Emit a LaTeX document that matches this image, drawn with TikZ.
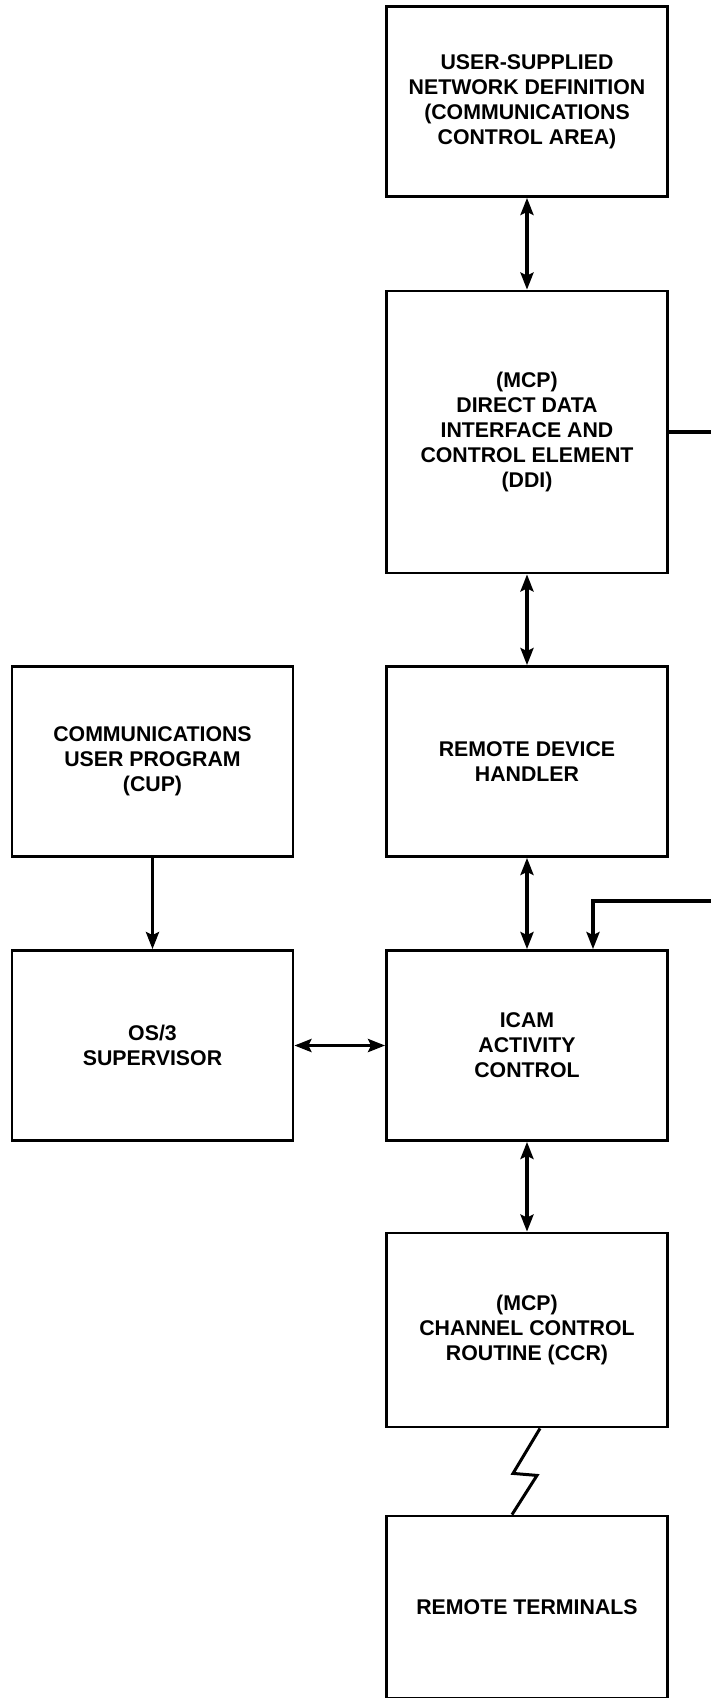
\documentclass[tikz,border=0pt]{standalone}
\usepackage{fontspec}
\setmainfont{Liberation Sans}
\usetikzlibrary{arrows.meta,positioning}
\tikzset{
  block/.style={draw, line width=2.8pt, minimum width=281pt, minimum height=#1,
                inner sep=0pt, align=center, font=\fontsize{21.3}{25}\selectfont\bfseries},
  block/.default=190pt,
  link/.style={line width=3.4pt, {Stealth[length=17pt,width=13pt,inset=3pt]}-{Stealth[length=17pt,width=13pt,inset=3pt]}},
  feed/.style={line width=3.4pt, -{Stealth[length=17pt,width=13pt,inset=3pt]}},
  wire/.style={line width=3pt, line join=miter},
}

\begin{document}
\begin{tikzpicture}[x=1pt,y=-1pt]
  \def\rx{527}\def\lx{152.5}
  \useasboundingbox (0,0) rectangle (711,1698);
  \clip (0,0) rectangle (711,1698);
  % right column
  \node[block] (cca) at (\rx,101.5) {USER-SUPPLIED\\NETWORK DEFINITION\\(COMMUNICATIONS\\CONTROL AREA)};
  \node[block=282pt] (ddi) at (\rx,432) {(MCP)\\DIRECT DATA\\INTERFACE AND\\CONTROL ELEMENT\\(DDI)};
  \node[block] (rdh) at (\rx,761.5) {REMOTE DEVICE\\HANDLER};
  \node[block] (icam) at (\rx,1045.5) {ICAM\\ACTIVITY\\CONTROL};
  \node[block=194pt] (ccr) at (\rx,1330) {(MCP)\\CHANNEL CONTROL\\ROUTINE (CCR)};
  \node[block=182pt] (term) at (\rx,1607) {REMOTE TERMINALS};
  % left column
  \node[block] (cup) at (\lx,761.5) {COMMUNICATIONS\\USER PROGRAM\\(CUP)};
  \node[block] (sup) at (\lx,1045.5) {OS/3\\SUPERVISOR};
  % connectors
  \draw[link] (cca.south) -- (ddi.north);
  \draw[link] (ddi.south) -- (rdh.north);
  \draw[link] (rdh.south) -- (icam.north);
  \draw[link] (icam.south) -- (ccr.north);
  \draw[link] (sup.east) -- (icam.west);
  \draw[feed] (cup.south) -- (sup.north);
  \coordinate (offr) at (745,0);
  \coordinate (bend) at ([xshift=66pt,yshift=48pt]icam.north);
  \draw[feed] (ddi.east) -- (ddi.east -| offr) |- (bend) -- ([xshift=66pt]icam.north);
  % line to the terminals
  \draw[wire] ([xshift=13pt]ccr.south) -- ++(-27,45) -- ++(24,2) -- ([xshift=-15pt]term.north);
\end{tikzpicture}
\end{document}
